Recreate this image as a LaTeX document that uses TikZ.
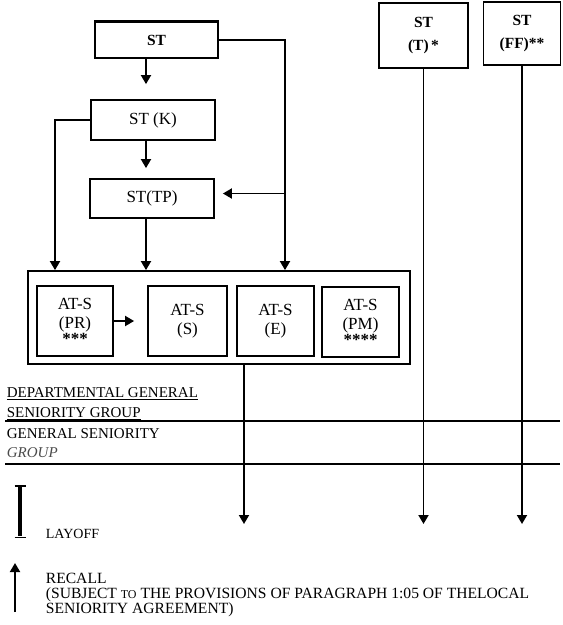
\documentclass[tikz,border=0pt]{standalone}
\usepackage{fontspec}
\setmainfont{Liberation Serif}
\usetikzlibrary{arrows.meta}

\begin{document}
\begin{tikzpicture}[
    x=1pt,y=-1pt,
    line width=1.8pt,
    box/.style={draw, rectangle, inner sep=0pt, align=center, font=\fontsize{17}{19}\selectfont},
    stbox/.style={box, font=\bfseries\fontsize{15.5}{23}\selectfont},
    atbox/.style={box, minimum height=70pt},
    grpbox/.style={draw, rectangle, inner sep=0pt, minimum width=382pt, minimum height=93pt},
    arr/.style={-{Triangle[length=9pt,width=10pt]}},
    legend/.style={anchor=north west, inner sep=0pt, align=left}
]
    \useasboundingbox (0,0) rectangle (563,625);

    % ================= STEPS =================
    \node[stbox, minimum width=123pt, minimum height=36pt] (ST) at (156.5, 40) {ST};
    \node[box, minimum width=124pt, minimum height=40pt] (STK) at (153, 120) {ST (K)};
    \node[box, minimum width=124pt, minimum height=39pt] (STTP) at (152, 198.5) {ST(TP)};
    \node[stbox, minimum width=89pt, minimum height=65pt] (STT) at (423.5, 35.5) {ST\\(T)\,*};
    \node[stbox, minimum width=77pt, minimum height=63pt] (STFF) at (522, 33.5) {ST\\(FF)**};
    \draw[line width=3pt] (ST.north west) -- (ST.north east);

    % ================= AT-S GROUP =================
    \node[grpbox] (GRP) at (219, 317.5) {};
    \node[atbox, minimum width=76pt] (PR) at (75, 321) {AT-S\\(PR)\\[-3pt]\textbf{***}};
    \node[atbox, minimum width=79pt] (S) at (187.5, 321) {AT-S\\(S)};
    \node[atbox, minimum width=77pt] (E) at (275.5, 321) {AT-S\\(E)};
    \node[atbox, minimum width=77pt] (PM) at (360.5, 322) {AT-S\\(PM)\\[-3pt]\textbf{****}};

    % ================= CONNECTIONS =================
    \coordinate (lft) at (55, 0);
    \coordinate (spine) at (146, 0);
    \coordinate (rgt) at (285, 0);
    \coordinate (down) at (244, 0);
    \coordinate (stop) at (0, 524);

    \draw[arr, shorten >=15pt] (ST.south -| spine) -- (STK.north -| spine);
    \draw[arr, shorten >=10pt] (STK.south -| spine) -- (STTP.north -| spine);
    \draw[arr] (STK.west) -| (GRP.north -| lft);
    \draw[arr] (STTP.south -| spine) -- (GRP.north -| spine);
    \draw[arr] (ST.east) -| (GRP.north -| rgt);
    \draw[arr, shorten >=8pt] ([yshift=5pt]STTP.east -| rgt) -- ([yshift=5pt]STTP.east);
    \draw[arr, shorten >=13pt] (PR.east) -- (S.west);

    \draw[arr] (GRP.south -| down) -- (stop -| down);
    \draw[arr] (STT.south) -- (STT.south |- stop);
    \draw[arr] (STFF.south) -- (STFF.south |- stop);

    % ================= SENIORITY GROUPS =================
    \node[legend, font=\fontsize{15}{20}\selectfont] (DGSG) at (6, 387)
        {\underline{DEPARTMENTAL GENERAL}\\\underline{SENIORITY GROUP}};
    \node[legend, font=\fontsize{15}{19}\selectfont] (GSG) at (6, 428)
        {GENERAL SENIORITY\\\textcolor{black!70}{\textit{GROUP}}};
    \draw (5, 421) -- (560, 421);
    \draw (5, 464) -- (560, 464);

    % ================= LEGEND =================
    % layoff bar
    \draw[line width=3.5pt] (20, 487) -- (20, 536);
    \draw[line width=1.5pt] (14.5, 486) -- (25.5, 486) (14.5, 537.5) -- (25.5, 537.5);
    \node[legend, anchor=base west, font=\fontsize{14}{16}\selectfont] (LAY) at (45, 538) {LAYOFF};

    \coordinate (rc1) at (15, 612);
    \coordinate (rc2) at (15, 563);
    \draw[arr] (rc1) -- (rc2);
    \node[legend, font=\fontsize{15.6}{15}\selectfont] (REC) at (45, 572)
        {RECALL\\(SUBJECT {\fontsize{12}{15}\selectfont TO} THE PROVISIONS OF PARAGRAPH 1:05 OF THELOCAL\\SENIORITY AGREEMENT)};
\end{tikzpicture}
\end{document}
